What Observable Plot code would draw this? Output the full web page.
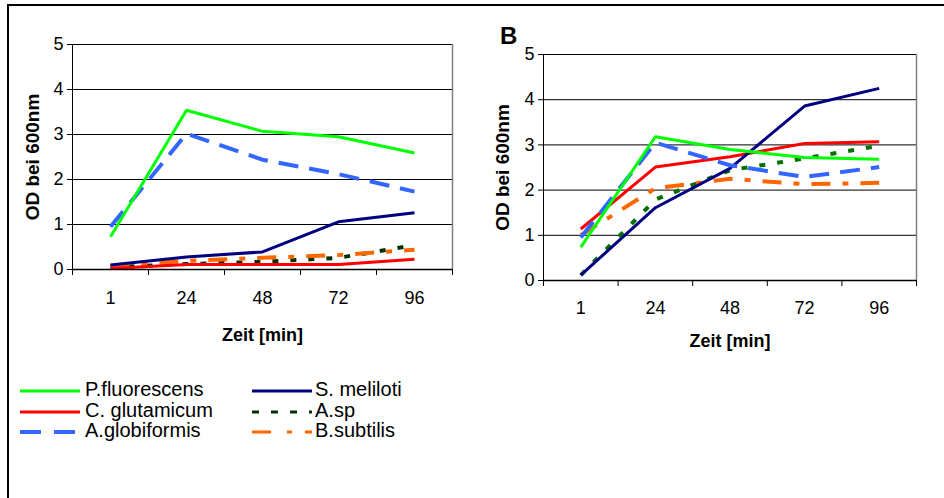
<!DOCTYPE html>
<html><head><meta charset="utf-8">
<script src="https://cdn.jsdelivr.net/npm/d3@7"></script>
<script src="https://cdn.jsdelivr.net/npm/@observablehq/plot@0.6"></script>
<style>
html,body{margin:0;padding:0;background:#fff;}
#wrap{position:relative;width:944px;height:498px;overflow:hidden;font-family:"Liberation Sans",Arial,sans-serif;background:#fff;}
#frame{position:absolute;left:7px;top:4px;width:960px;height:520px;border:2px solid #000;box-sizing:border-box;}
.panel{position:absolute;top:0;}
.panel svg{background:none;}
</style></head><body><div id="wrap"><div id="frame"></div></div>
<script>
// categories (x axis)
const times = ["1","24","48","72","96"];
const yTicks = [0,1,2,3,4,5];
const seriesNames = ["P.fluorescens","C. glutamicum","A.globiformis","S. meliloti","A.sp","B.subtilis"];

// left chart values (OD at 600 nm)
const pflLeft  = [0.73,3.54,3.07,2.95,2.59];
const cgluLeft = [0.02,0.11,0.11,0.11,0.23];
const agloLeft = [0.95,3.02,2.44,2.12,1.73];
const smelLeft = [0.10,0.28,0.39,1.06,1.26];
const aspLeft  = [0.05,0.12,0.17,0.26,0.54];
const bsubLeft = [0.08,0.19,0.26,0.32,0.44];

// right chart values
const pflRight  = [0.74,3.18,2.90,2.72,2.68];
const cgluRight = [1.14,2.51,2.74,3.03,3.07];
const agloRight = [0.95,3.05,2.55,2.29,2.51];
const smelRight = [0.12,1.61,2.48,3.86,4.25];
const aspRight  = [0.12,1.79,2.44,2.70,2.98];
const bsubRight = [1.00,2.04,2.25,2.13,2.16];

const styles = {
  "P.fluorescens": {stroke:"#00FF00", strokeWidth:3},
  "C. glutamicum": {stroke:"#FF0000", strokeWidth:3},
  "A.globiformis": {stroke:"#3366FF", strokeWidth:4, strokeDasharray:"20,11"},
  "S. meliloti":   {stroke:"#000080", strokeWidth:3},
  "A.sp":          {stroke:"#003300", strokeWidth:4, strokeDasharray:"6,12"},
  "B.subtilis":    {stroke:"#FF6600", strokeWidth:4, strokeDasharray:"19,12,6,12"}
};

function rows(name, vals){ return vals.map((v,i)=>({series:name, i, v})); }

function panel(cfg, valueLists, aspColor){
  const lineMarks = [];
  const order = [4,5,1,3,2,0];
  for (const k of order){
    const name = seriesNames[k];
    const st = Object.assign({}, styles[name]);
    if (name === "A.sp" && aspColor) st.stroke = aspColor;
    lineMarks.push(Plot.line(rows(name, valueLists[k]), {x:"i", y:"v", ...st, strokeLinejoin:"miter", strokeLinecap:"butt"}));
  }
  return Plot.plot({
    width: cfg.width, height: cfg.height,
    marginLeft: cfg.ml, marginRight: cfg.mr, marginTop: cfg.mt, marginBottom: cfg.mb,
    x: {type:"linear", domain:[-0.5,4.5]},
    y: {type:"linear", domain:[0,5]},
    style: {fontFamily:"'Liberation Sans', Arial, sans-serif", fontSize:"18px", color:"#000", background:"none", overflow:"visible"},
    marks: [
      Plot.ruleY([1,2,3,4], {stroke:"#000", strokeWidth:1}),
      Plot.ruleY([5], {stroke:"#000", strokeWidth:1}),
      Plot.ruleX([4.5], {stroke:"#808080", strokeWidth:1.5}),
      Plot.axisY({ticks:yTicks, tickFormat:d=>String(d), tickSize:5, tickPadding:4, label:null, stroke:"#000"}),
      Plot.axisX({ticks:[-0.5,0.5,1.5,2.5,3.5,4.5], tickFormat:()=>"", tickSize:6, label:null, stroke:"#000"}),
      Plot.axisX({ticks:[0,1,2,3,4], tickFormat:i=>times[i], tickSize:0, tickPadding:cfg.xpad, label:null}),
      ...lineMarks,
      Plot.ruleX([-0.5], {stroke:"#000", strokeWidth:1}),
      Plot.ruleY([0], {stroke:"#000", strokeWidth:1.5}),
      Plot.text(["OD bei 600nm"], {text:d=>d, frameAnchor:"left", textAnchor:"middle", dx:cfg.ydx, rotate:-90, lineAnchor:"bottom", fontWeight:"bold", fontSize:19, fill:"#000"}),
      Plot.text(["Zeit [min]"], {text:d=>d, frameAnchor:"bottom", textAnchor:"middle", dy:cfg.xdy, lineAnchor:"bottom", fontWeight:"bold", fontSize:18, fill:"#000"})
    ]
  });
}

const wrap = document.getElementById("wrap");

const left = panel({width:470, height:360, ml:72, mr:18, mt:44, mb:91, xpad:22, ydx:-34, xdy:71},
  [pflLeft, cgluLeft, agloLeft, smelLeft, aspLeft, bsubLeft], "#003300");
const ld = document.createElement("div"); ld.className="panel"; ld.style.left="0px"; ld.appendChild(left); wrap.appendChild(ld);

const right = panel({width:472, height:360, ml:71, mr:28, mt:54, mb:80, xpad:21, ydx:-35, xdy:66},
  [pflRight, cgluRight, agloRight, smelRight, aspRight, bsubRight], "#007000");
const rd = document.createElement("div"); rd.className="panel"; rd.style.left="472px"; rd.appendChild(right); wrap.appendChild(rd);

// legend + panel letter
const legendCols = [
  {lineX:20, textX:85, names:["P.fluorescens","C. glutamicum","A.globiformis"]},
  {lineX:252, textX:315, names:["S. meliloti","A.sp","B.subtilis"]}
];
const legendLineY = [391,412,432];
const lg = d3.select(wrap).append("svg").attr("width",944).attr("height",498)
  .style("position","absolute").style("left","0px").style("top","0px").style("pointer-events","none");
lg.append("text").attr("x",500).attr("y",44).attr("font-size",24).attr("font-weight","bold")
  .attr("font-family","'Liberation Sans', Arial, sans-serif").attr("fill","#000").text("B");
const legendDash = {"A.globiformis":"21,13", "A.sp":"7,12", "B.subtilis":"19,16,5,13"};
legendCols.forEach(col=>{
  col.names.forEach((name,r)=>{
    const st = styles[name];
    lg.append("line").attr("x1",col.lineX).attr("x2",col.lineX+60)
      .attr("y1",legendLineY[r]).attr("y2",legendLineY[r])
      .attr("stroke",st.stroke).attr("stroke-width",name==="A.globiformis"?4:3.2)
      .attr("stroke-dasharray",legendDash[name]||null);
    lg.append("text").attr("x",col.textX).attr("y",legendLineY[r]+4.5)
      .attr("font-size",20).attr("font-family","'Liberation Sans', Arial, sans-serif")
      .attr("fill","#000").text(name);
  });
});
</script></body></html>
